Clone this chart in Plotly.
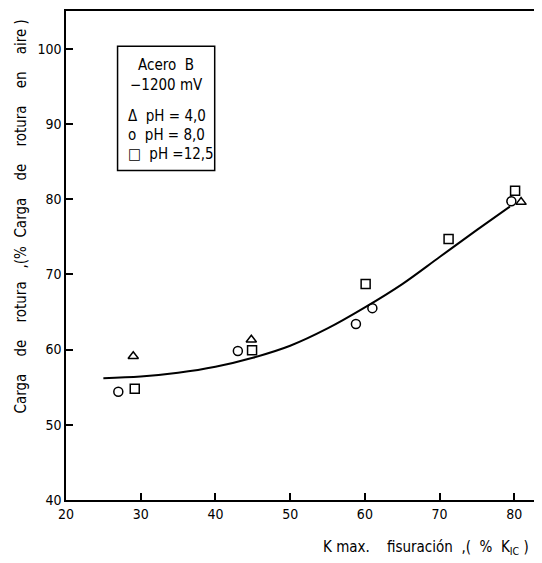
import plotly.graph_objects as go

# Data
tri_x = [29.0, 44.8, 80.9]
tri_y = [59.1, 61.3, 79.6]
circ_x = [27.0, 43.0, 58.8, 61.0, 79.6]
circ_y = [54.4, 59.8, 63.4, 65.5, 79.7]
sq_x = [29.2, 44.9, 60.1, 71.2, 80.1]
sq_y = [54.8, 59.9, 68.7, 74.7, 81.1]
curve_x = [25.0, 30.0, 35.0, 40.0, 45.0, 50.0, 55.0, 60.0, 65.0, 70.0, 75.0, 79.4]
curve_y = [56.2, 56.4, 56.9, 57.7, 58.9, 60.5, 62.8, 65.6, 68.7, 72.3, 75.9, 79.0]
x_ticks = [20, 30, 40, 50, 60, 70, 80]
y_ticks = [40, 50, 60, 70, 80, 90, 100]

FONT = "DejaVu Sans Condensed, DejaVu Sans, sans-serif"
fig = go.Figure()
fig.add_trace(go.Scatter(x=curve_x, y=curve_y, mode="lines", line=dict(color="black", width=2, shape="spline"),
                         showlegend=False, hoverinfo="skip"))
fig.add_trace(go.Scatter(x=tri_x, y=tri_y, mode="markers", name="pH = 4,0",
                         marker=dict(symbol="triangle-up-open", size=9, color="black", line=dict(width=1.5))))
fig.add_trace(go.Scatter(x=circ_x, y=circ_y, mode="markers", name="pH = 8,0",
                         marker=dict(symbol="circle-open", size=9, color="black", line=dict(width=1.5))))
fig.add_trace(go.Scatter(x=sq_x, y=sq_y, mode="markers", name="pH = 12,5",
                         marker=dict(symbol="square-open", size=9, color="black", line=dict(width=1.5))))

# legend box
fig.add_shape(type="rect", xref="x", yref="y", x0=26.9, x1=39.9, y0=83.8, y1=100.3,
              line=dict(color="black", width=1.5))
legend_lines = [("Acero  B", 97.8, 33.4, "center"), ("−1200 mV", 95.2, 33.4, "center"),
                ("Δ  pH = 4,0", 91.0, 28.0, "left"), ("o  pH = 8,0", 88.5, 28.0, "left"),
                ("□  pH =12,5", 86.0, 28.0, "left")]
for txt, yy, xx, al in legend_lines:
    fig.add_annotation(x=xx, y=yy, xref="x", yref="y", text=txt, showarrow=False,
                       xanchor=al, font=dict(size=15, color="black", family=FONT))

fig.add_annotation(x=0.983, y=-0.098, xref="paper", yref="paper", xanchor="right", yanchor="middle",
                   text="K max.    fisuración  ,(  %  K<sub>IC</sub> )", showarrow=False,
                   font=dict(size=15, color="black", family=FONT))
fig.add_annotation(x=-0.095, y=0.58, xref="paper", yref="paper", textangle=-90,
                   xanchor="center", yanchor="middle",
                   text="Carga    de    rotura   ,(%  Carga    de    rotura    en    aire )", showarrow=False,
                   font=dict(size=15, color="black", family=FONT))

axis_common = dict(showgrid=False, zeroline=False, showline=True, linecolor="black", linewidth=1.5,
                   mirror=True, ticks="inside", ticklen=7, tickwidth=1.5, tickcolor="black",
                   tickfont=dict(size=14, color="black", family=FONT))
fig.update_xaxes(range=[20, 83.3], tickvals=x_ticks, **axis_common)
fig.update_yaxes(range=[40, 105], tickvals=y_ticks, **axis_common)
# page body adds an 8px offset; sizes/margins compensate so the plot area lands where the reference has it
fig.update_layout(width=534, height=555, margin=dict(l=58, r=1, t=3, b=63),
                  plot_bgcolor="white", paper_bgcolor="white", showlegend=False)
fig.write_html("out.html")
